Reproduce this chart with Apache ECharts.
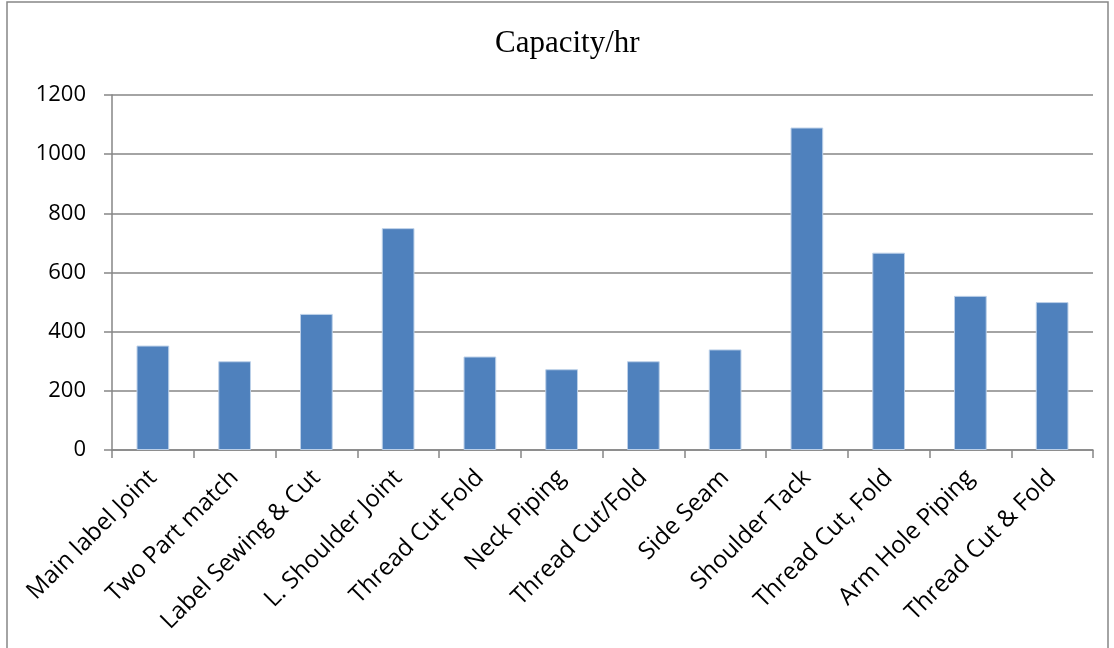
<!DOCTYPE html>
<html>
<head>
<meta charset="utf-8">
<script src="https://cdn.jsdelivr.net/npm/echarts@6/dist/echarts.min.js"></script>
<style>
html, body { margin: 0; padding: 0; background: #fff; }
#main { width: 1114px; height: 648px; }
</style>
</head>
<body>
<div id="main"></div>
<script>
var categories = ['Main label Joint', 'Two Part match', 'Label Sewing & Cut', 'L. Shoulder Joint',
    'Thread Cut Fold', 'Neck Piping', 'Thread Cut/Fold', 'Side Seam', 'Shoulder Tack',
    'Thread Cut, Fold', 'Arm Hole Piping', 'Thread Cut & Fold'];
var capacity = [353, 300, 460, 750, 316, 273, 300, 340, 1090, 667, 521, 500];
var yMin = 0, yMax = 1200, yStep = 200;

var chart = echarts.init(document.getElementById('main'));

var option = {
    animation: false,
    backgroundColor: '#fff',
    title: {
        text: 'Capacity/hr',
        left: 490,
        top: 23,
        textStyle: {
            fontFamily: 'Liberation Serif',
            fontWeight: 'normal',
            fontSize: 31,
            color: '#000'
        }
    },
    graphic: [{
        // outer chart frame
        type: 'rect',
        shape: { x: 7, y: 2, width: 1101, height: 660 },
        style: { fill: 'none', stroke: '#868686', lineWidth: 1.5 },
        silent: true
    }],
    grid: {
        left: 112,
        right: 21,
        top: 95,
        bottom: 198
    },
    xAxis: {
        type: 'category',
        data: categories,
        axisLine: { lineStyle: { color: '#868686', width: 1.5 } },
        axisTick: { show: true, length: 8, lineStyle: { color: '#868686', width: 1.5 } },
        axisLabel: {
            rotate: 45,
            interval: 0,
            margin: 24,
            color: '#000',
            fontFamily: 'Open Sans',
            fontSize: 24
        }
    },
    yAxis: {
        type: 'value',
        min: yMin,
        max: yMax,
        interval: yStep,
        axisLine: { show: true, lineStyle: { color: '#868686', width: 1.5 } },
        axisTick: { show: true, length: 8, lineStyle: { color: '#868686', width: 1.5 } },
        splitLine: { lineStyle: { color: '#868686', width: 1.5 } },
        axisLabel: {
            margin: 26,
            color: '#000',
            fontFamily: 'Open Sans',
            fontSize: 22,
            formatter: function (v) { return String(v); }
        }
    },
    series: [{
        name: 'Capacity/hr',
        type: 'bar',
        data: capacity,
        barCategoryGap: '60%',
        itemStyle: {
            color: '#4F81BD',
            borderColor: '#BCD0E8',
            borderWidth: 1
        }
    }]
};

chart.setOption(option);
</script>
</body>
</html>
